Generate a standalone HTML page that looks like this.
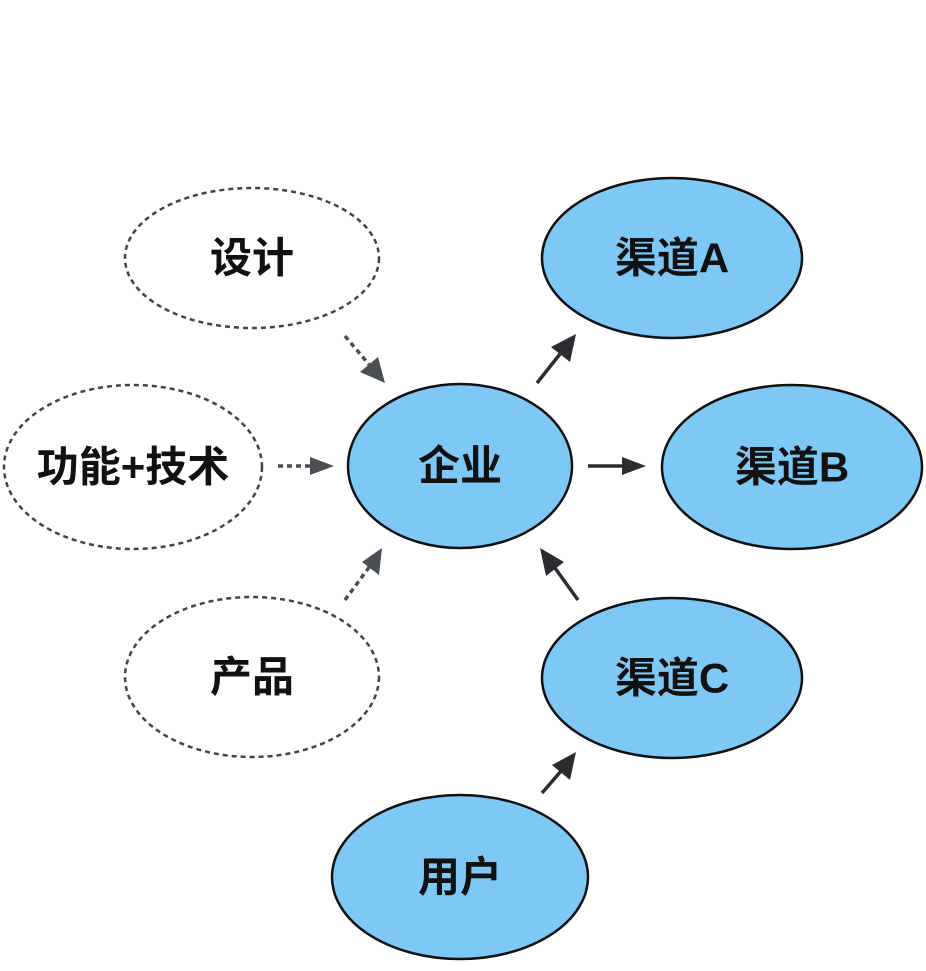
<!DOCTYPE html>
<html><head><meta charset="utf-8"><style>
html,body{margin:0;padding:0;background:#fff;}
svg{display:block;}
text{font-family:"Liberation Sans","Noto Sans CJK SC",sans-serif;font-weight:bold;font-size:42px;fill:#111;text-anchor:middle;dominant-baseline:central;}
</style></head><body>
<svg width="926" height="971" viewBox="0 0 926 971" xmlns="http://www.w3.org/2000/svg">
<g fill="none" stroke="#444" stroke-width="2.5" stroke-dasharray="5 4">
<ellipse cx="252" cy="258" rx="127" ry="70"/>
<ellipse cx="133" cy="467" rx="129" ry="82"/>
<ellipse cx="252" cy="677" rx="127" ry="80"/>
</g>
<g fill="#7ec8f5" stroke="#111" stroke-width="2.5">
<ellipse cx="460" cy="466" rx="112" ry="82"/>
<ellipse cx="672" cy="258" rx="130" ry="80"/>
<ellipse cx="792" cy="467" rx="130" ry="82"/>
<ellipse cx="672" cy="678" rx="130" ry="80"/>
<ellipse cx="460" cy="877" rx="128" ry="82"/>
</g>
<g stroke="#4a4f55" stroke-width="3.5" stroke-dasharray="5 4">
<line x1="345" y1="336" x2="372" y2="368"/>
<line x1="278" y1="466" x2="318" y2="466"/>
<line x1="345" y1="600" x2="370" y2="566"/>
</g>
<g fill="#4a4f55">
<path d="M385,383 L360,372 L378,357 z"/>
<path d="M334,466 L310,457 L310,475 z"/>
<path d="M382,548 L379,575 L362,562 z"/>
</g>
<g stroke="#2a2c2f" stroke-width="3.5">
<line x1="537" y1="383" x2="560" y2="354"/>
<line x1="588" y1="466" x2="628" y2="466"/>
<line x1="578" y1="600" x2="555" y2="568"/>
<line x1="542" y1="793" x2="562" y2="770"/>
</g>
<g fill="#2a2c2f">
<path d="M576,334 L570,362 L551,347 z"/>
<path d="M646,466 L622,457 L622,475 z"/>
<path d="M540,548 L564,562 L546,576 z"/>
<path d="M576,752 L570,780 L552,765 z"/>
</g>
<text x="252" y="258">设计</text>
<text x="133" y="467">功能+技术</text>
<text x="252" y="677">产品</text>
<text x="460" y="466">企业</text>
<text x="672" y="258">渠道A</text>
<text x="792" y="467">渠道B</text>
<text x="672" y="678">渠道C</text>
<text x="460" y="877">用户</text>
</svg>
</body></html>
